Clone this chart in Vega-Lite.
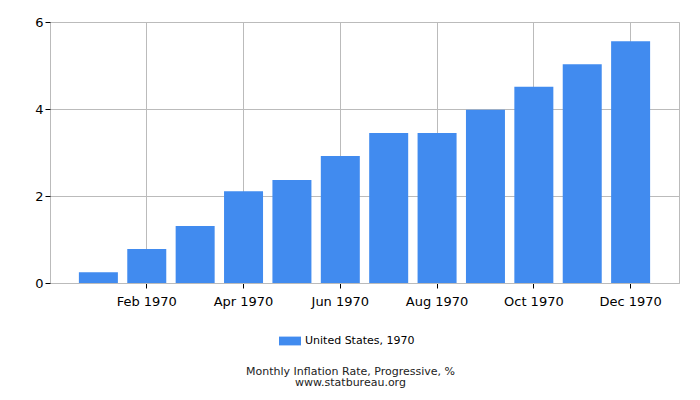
{
  "$schema": "https://vega.github.io/schema/vega-lite/v6.json",
  "width": 629,
  "height": 261,
  "autosize": "none",
  "padding": {"left": 50, "top": 22, "right": 21, "bottom": 117},
  "background": "white",
  "config": {
    "view": {"stroke": "#bbbbbb"},
    "font": "DejaVu Sans"
  },
  "title": {
    "text": "Monthly Inflation Rate, Progressive, %",
    "subtitle": "www.statbureau.org",
    "orient": "bottom",
    "anchor": "middle",
    "dx": -14,
    "offset": 20,
    "font": "DejaVu Sans",
    "fontSize": 11,
    "fontWeight": "normal",
    "color": "#222222",
    "subtitleFont": "DejaVu Sans",
    "subtitleFontSize": 11,
    "subtitleColor": "#222222",
    "subtitlePadding": 0
  },
  "data": {
    "values": [
      {"month": "Jan 1970", "value": 0.25, "series": "United States, 1970"},
      {"month": "Feb 1970", "value": 0.78, "series": "United States, 1970"},
      {"month": "Mar 1970", "value": 1.31, "series": "United States, 1970"},
      {"month": "Apr 1970", "value": 2.11, "series": "United States, 1970"},
      {"month": "May 1970", "value": 2.37, "series": "United States, 1970"},
      {"month": "Jun 1970", "value": 2.92, "series": "United States, 1970"},
      {"month": "Jul 1970", "value": 3.45, "series": "United States, 1970"},
      {"month": "Aug 1970", "value": 3.45, "series": "United States, 1970"},
      {"month": "Sep 1970", "value": 3.98, "series": "United States, 1970"},
      {"month": "Oct 1970", "value": 4.51, "series": "United States, 1970"},
      {"month": "Nov 1970", "value": 5.03, "series": "United States, 1970"},
      {"month": "Dec 1970", "value": 5.56, "series": "United States, 1970"}
    ]
  },
  "mark": {"type": "bar"},
  "encoding": {
    "x": {
      "field": "month",
      "type": "ordinal",
      "sort": null,
      "scale": {"paddingInner": 0.194, "paddingOuter": 0.597},
      "axis": {
        "title": null,
        "values": ["Feb 1970", "Apr 1970", "Jun 1970", "Aug 1970", "Oct 1970", "Dec 1970"],
        "labelAngle": 0,
        "labelFont": "DejaVu Sans",
        "labelFontSize": 13,
        "labelColor": "#000000",
        "labelPadding": 7,
        "tickColor": "#000000",
        "tickSize": 5,
        "domainColor": "#bbbbbb",
        "grid": true,
        "gridColor": "#bbbbbb",
        "bandPosition": 0.5
      }
    },
    "y": {
      "field": "value",
      "type": "quantitative",
      "scale": {"domain": [0, 6], "nice": false},
      "axis": {
        "title": null,
        "values": [0, 2, 4, 6],
        "labelFont": "DejaVu Sans",
        "labelFontSize": 13,
        "labelColor": "#000000",
        "labelPadding": 2,
        "tickColor": "#000000",
        "tickSize": 5,
        "domain": false,
        "grid": true,
        "gridColor": "#bbbbbb"
      }
    },
    "color": {
      "field": "series",
      "type": "nominal",
      "scale": {"range": ["#418bef"]},
      "legend": {
        "title": null,
        "orient": "none",
        "legendX": 229,
        "legendY": 308,
        "padding": 0,
        "symbolType": "M-1,-0.4L1,-0.4L1,0.4L-1,0.4Z",
        "symbolSize": 484,
        "symbolStrokeWidth": 0,
        "labelFont": "DejaVu Sans",
        "labelFontSize": 11,
        "labelColor": "#000000",
        "labelOffset": 4
      }
    }
  }
}
